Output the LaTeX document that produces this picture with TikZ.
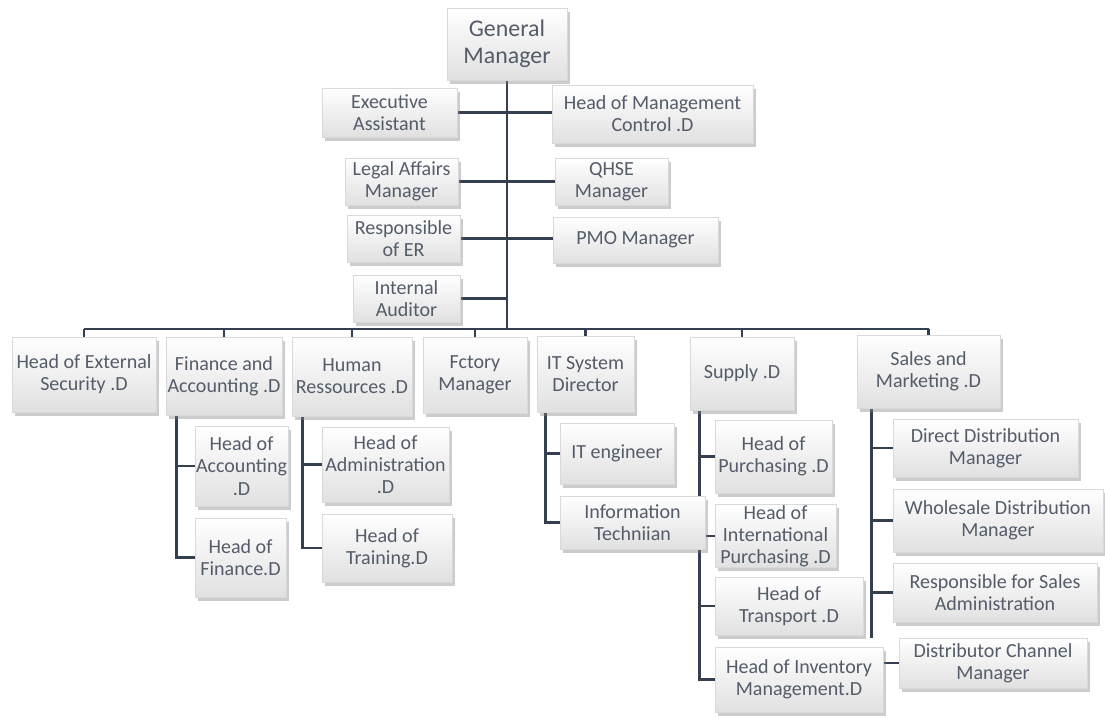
\documentclass[tikz,border=0pt]{standalone}
\usepackage{fontspec}
\setmainfont{Carlito}
\usetikzlibrary{shadows,backgrounds}
\definecolor{slate}{RGB}{52,63,80}
\definecolor{inkgray}{RGB}{84,92,106}

\begin{document}
\begin{tikzpicture}[x=0.02cm,y=-0.02cm,
  post/.style 2 args={draw=gray!30,line width=0.3pt,top color=white,bottom color=gray!24,
    drop shadow={shadow xshift=1.5pt,shadow yshift=-2pt,opacity=0.4},
    minimum width=#1*0.02cm,minimum height=#2*0.02cm,inner sep=0.5pt,align=center,
    text=inkgray,font=\fontsize{11.4}{12.6}\selectfont},
  link/.style={draw=slate,line width=1.5pt}]
\useasboundingbox (0,0) rectangle (1105,717);

% top of the chart
\node[post={120}{72},font=\fontsize{13.6}{15.4}\selectfont] (gm) at (507,44) {General\\Manager};
\node[post={135}{49}] (ea) at (389.5,112.5) {Executive\\Assistant};
\node[post={201}{58}] (hmc) at (652.5,114) {Head of Management\\Control .D};
\node[post={113}{47}] (legal) at (401.5,181.5) {Legal Affairs\\Manager};
\node[post={113}{47}] (qhse) at (611.5,181.5) {QHSE\\Manager};
\node[post={113}{47}] (er) at (403.5,238.5) {Responsible\\of ER};
\node[post={165}{46}] (pmo) at (635.5,240) {PMO Manager};
\node[post={107}{47}] (aud) at (406.5,298.5) {Internal\\Auditor};

% directors
\node[post={144}{75}] (ext) at (84,374.5) {Head of External\\Security .D};
\node[post={116}{78}] (fa) at (224,376) {Finance and\\Accounting .D};
\node[post={120}{79}] (hr) at (352,376.5) {Human\\Ressources .D};
\node[post={104}{76}] (fct) at (475,375) {Fctory\\Manager};
\node[post={97}{76}] (its) at (585.5,374) {IT System\\Director};
\node[post={104}{73}] (sup) at (742,373.5) {Supply .D};
\node[post={143}{73}] (sal) at (928.5,371.5) {Sales and\\Marketing .D};

% sub units
\node[post={93}{80}] (hacc) at (241.5,466) {Head of\\Accounting\\.D};
\node[post={91}{79}] (hfin) at (240.5,557.5) {Head of\\Finance.D};
\node[post={127}{75}] (hadm) at (385.5,464.5) {Head of\\Administration\\.D};
\node[post={130}{68}] (htrn) at (387,548) {Head of\\Training.D};
\node[post={114}{61}] (ite) at (617,453.5) {IT engineer};
\node[post={145}{53}] (itt) at (632.5,522.5) {Information\\Techniian};
\node[post={117}{73}] (hpur) at (773.5,456.5) {Head of\\Purchasing .D};
\node[post={121}{62}] (hint) at (775.5,536) {Head of\\International\\Purchasing .D};
\node[post={148}{58}] (htr) at (789,606) {Head of\\Transport .D};
\node[post={168}{65}] (hinv) at (799,679.5) {Head of Inventory\\Management.D};
\node[post={185}{58}] (ddm) at (985.5,448) {Direct Distribution\\Manager};
\node[post={210}{63}] (wdm) at (998,520.5) {Wholesale Distribution\\Manager};
\node[post={204}{59}] (rsa) at (995,592.5) {Responsible for Sales\\Administration};
\node[post={188}{50}] (dcm) at (993,663) {Distributor Channel\\Manager};

\coordinate (bus) at (507,329);
\coordinate (fav) at ([xshift=0.22cm]fa.south west);
\coordinate (hrv) at ([xshift=0.22cm]hr.south west);
\coordinate (itv) at ([xshift=0.18cm]its.south west);
\coordinate (supv) at ([xshift=0.2cm]sup.south west);
\coordinate (salv) at ([xshift=0.3cm]sal.south west);

\begin{scope}[on background layer]
\draw[link] (gm.south) -- (bus);
\draw[link] (ea.east) -- (ea.east -| hmc.west);
\draw[link] (legal.east) -- (qhse.west);
\draw[link] (er.east) -- (er.east -| pmo.west);
\draw[link] (aud.east) -- (aud.east -| gm.south);
\draw[link] (ext.north |- bus) -- (sal.north |- bus);
\foreach \n in {ext,fa,hr,fct,its,sup,sal}
  \draw[link] (\n.north) -- (\n.north |- bus);
\foreach \n in {hacc,hfin}
  \draw[link] (fav) |- (\n.west);
\foreach \n in {hadm,htrn}
  \draw[link] (hrv) |- (\n.west);
\foreach \n in {ite,itt}
  \draw[link] (itv) |- (\n.west);
\foreach \n in {hpur,hint,htr,hinv}
  \draw[link] (supv) |- (\n.west);
\foreach \n in {ddm,wdm,rsa}
  \draw[link] (salv) |- (\n.west);
\draw[link] (salv) -- (salv |- dcm.north);
\draw[link] (dcm.west -| hinv.east) -- (dcm.west);
\end{scope}
\end{tikzpicture}
\end{document}
